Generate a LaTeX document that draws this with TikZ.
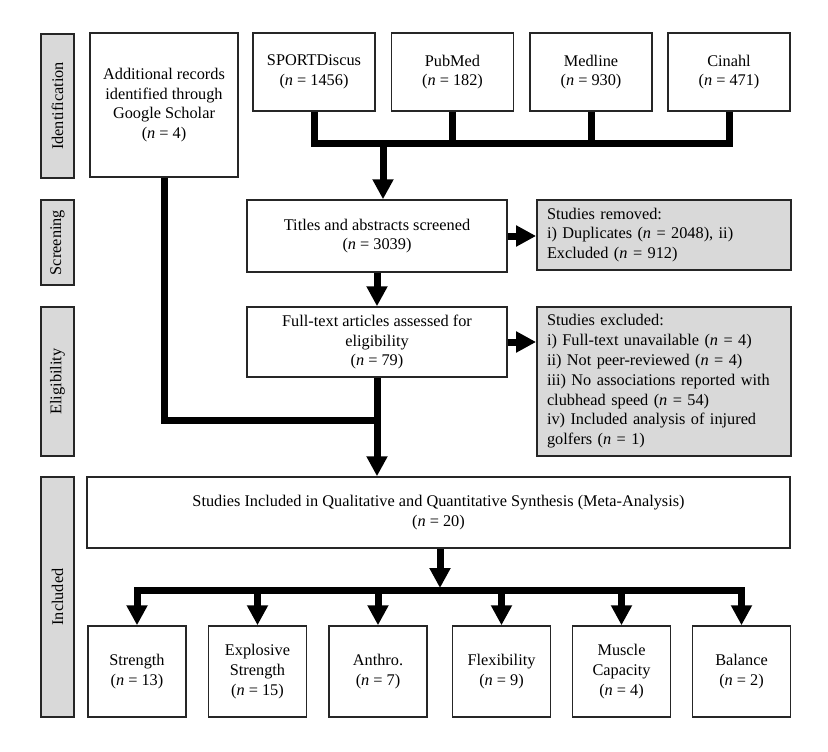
\documentclass[tikz,border=0pt]{standalone}
\usepackage{fontspec}
\setmainfont{Liberation Serif}
\usetikzlibrary{arrows.meta}
\newcommand\myn{\textit{n}}
\definecolor{lgray}{RGB}{217,217,217}
\begin{document}
\begin{tikzpicture}[x=1pt,y=-1pt,
  txt/.style={font=\fontsize{16.3}{19.8}\selectfont},
  box/.style={txt,draw=black!85,line width=1.5pt,fill=white,align=center,inner sep=2pt},
  graybox/.style={txt,draw=black!85,line width=1.8pt,fill=lgray,align=left,inner xsep=10pt,inner ysep=2pt,text width=234pt},
  sidelab/.style={txt,draw=black!85,line width=1.5pt,fill=lgray,rotate=90,minimum height=33pt,inner sep=0pt},
  fat/.style={line width=7pt},
  tip/.style={Triangle[width=20pt,length=20pt]},
  fatarrow/.style={fat,-{Triangle[width=20pt,length=20pt]}}]
\path[use as bounding box] (0,0) rectangle (828,752);
% side labels
\node[sidelab,minimum width=144pt] (lid) at (57.5,106) {Identification};
\node[sidelab,minimum width=85pt] (lsc) at (57.5,242.5) {Screening};
\node[sidelab,minimum width=149pt] (lel) at (57.5,381.5) {Eligibility};
\node[sidelab,minimum width=240pt] (lin) at (57.5,597) {Included};
% identification
\node[box,minimum width=148pt,minimum height=144pt] (gs) at (164,105) {Additional records\\identified through\\Google Scholar\\(\myn{} = 4)};
\node[box,minimum width=122pt,minimum height=78pt] (sp) at (314,72) {SPORTDiscus\\(\myn{} = 1456)};
\node[box,minimum width=122pt,minimum height=78pt] (pub) at (452.5,72) {PubMed\\(\myn{} = 182)};
\node[box,minimum width=122pt,minimum height=78pt] (med) at (591,72) {Medline\\(\myn{} = 930)};
\node[box,minimum width=122pt,minimum height=78pt] (cin) at (729,72) {Cinahl\\(\myn{} = 471)};
% screening
\node[box,minimum width=260pt,minimum height=72pt] (tit) at (377,236) {Titles and abstracts screened\\(\myn{} = 3039)};
\node[graybox,minimum height=70pt] (rem) at (664,235) {Studies removed:\\i) Duplicates (\myn{} = 2048), ii)\\Excluded (\myn{} = 912)};
% eligibility
\node[box,minimum width=260pt,minimum height=70pt] (full) at (377,342) {Full-text articles assessed for\\eligibility\\(\myn{} = 79)};
\node[graybox,minimum height=149pt] (exc) at (664,381.5) {Studies excluded:\\i) Full-text unavailable (\myn{} = 4)\\ii) Not peer-reviewed (\myn{} = 4)\\iii) No associations reported with\\clubhead speed (\myn{} = 54)\\iv) Included analysis of injured\\golfers (\myn{} = 1)};
% included
\node[box,minimum width=703pt,minimum height=71pt] (incl) at (438.5,512.5) {Studies Included in Qualitative and Quantitative Synthesis (Meta-Analysis)\\(\myn{} = 20)};
\node[box,minimum width=98pt,minimum height=91pt] (b1) at (137,671.5) {Strength\\(\myn{} = 13)};
\node[box,minimum width=98pt,minimum height=91pt] (b2) at (257.5,671.5) {Explosive\\Strength\\(\myn{} = 15)};
\node[box,minimum width=98pt,minimum height=91pt] (b3) at (378,671.5) {Anthro.\\(\myn{} = 7)};
\node[box,minimum width=98pt,minimum height=91pt] (b4) at (501.5,671.5) {Flexibility\\(\myn{} = 9)};
\node[box,minimum width=98pt,minimum height=91pt] (b5) at (621.5,671.5) {Muscle\\Capacity\\(\myn{} = 4)};
\node[box,minimum width=98pt,minimum height=91pt] (b6) at (741.5,671.5) {Balance\\(\myn{} = 2)};
% connectors
\coordinate (ty) at (0,143);
\draw[fat] (sp.south) |- (cin.south |- ty) -- (cin.south);
\draw[fat] (pub.south) -- (pub.south |- ty);
\draw[fat] (med.south) -- (med.south |- ty);
\coordinate (tj) at (383,143);
\draw[fatarrow] (tj) -- (tj |- tit.north);
\draw[fatarrow] (tit.east) -- (tit.east -| rem.west);
\draw[fatarrow] (tit.south) -- (full.north);
\draw[fatarrow] (full.east) -- (full.east -| exc.west);
\coordinate (gj) at (377,420);
\draw[fat] (gs.south) |- (gj);
\draw[fatarrow] (full.south) -- (full.south |- incl.north);
\coordinate (bj) at (440,590);
\coordinate (bjt) at (440,588);
\draw[fatarrow] (incl.south -| bj) -- (bjt);
\draw[fat,{Triangle[width=20pt,length=20pt]}-{Triangle[width=20pt,length=20pt]}] (b1.north) -- (b1.north |- bj) -- (b6.north |- bj) -- (b6.north);
\draw[fatarrow] (b2.north |- bj) -- (b2.north);
\draw[fatarrow] (b3.north |- bj) -- (b3.north);
\draw[fatarrow] (b4.north |- bj) -- (b4.north);
\draw[fatarrow] (b5.north |- bj) -- (b5.north);
\end{tikzpicture}
\end{document}
